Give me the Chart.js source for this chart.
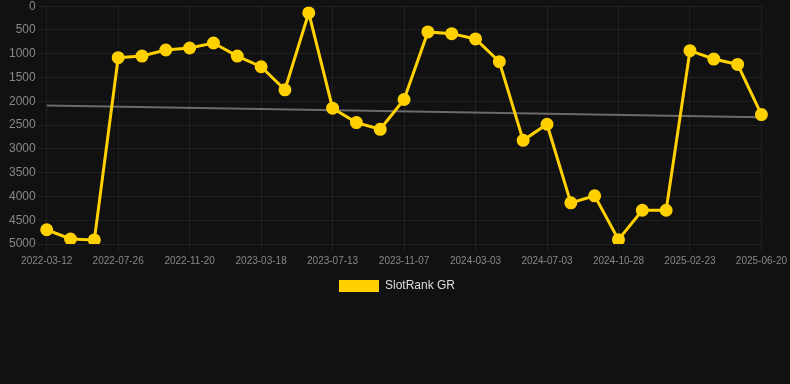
<!DOCTYPE html>
<html>
<head>
<meta charset="utf-8">
<script src="https://cdn.jsdelivr.net/npm/chart.js@4"></script>
<style>
  html, body { margin: 0; padding: 0; background: #111111; overflow: hidden; }
  #wrap { width: 790px; height: 306px; margin-top: -4px; }
</style>
</head>
<body>
<div id="wrap"><canvas id="chartRank"></canvas></div>
<script>
  // dates on the x axis (every 3rd one is shown)
  const dates = [
    '2022-03-12', '2022-04-26', '2022-06-10', '2022-07-26', '2022-09-03', '2022-10-12',
    '2022-11-20', '2022-12-29', '2023-02-07', '2023-03-18', '2023-04-26', '2023-06-04',
    '2023-07-13', '2023-08-21', '2023-09-29', '2023-11-07', '2023-12-16', '2024-01-24',
    '2024-03-03', '2024-04-13', '2024-05-24', '2024-07-03', '2024-08-11', '2024-09-19',
    '2024-10-28', '2024-12-06', '2025-01-14', '2025-02-23', '2025-04-03', '2025-05-12',
    '2025-06-20'
  ];
  // rank values
  const rankGR = [
    4700, 4895, 4915, 1083, 1048, 921, 879, 774, 1048, 1273, 1758,
    141, 2145, 2447, 2588, 1962, 541, 577, 689, 1167, 2820, 2482,
    4135, 3987, 4909, 4290, 4290, 935, 1111, 1224, 2278
  ];
  // trend line, only its two ends
  const trend = dates.map(() => null);
  trend[0] = 2090;
  trend[dates.length - 1] = 2335;

  const yTicks = [0, 500, 1000, 1500, 2000, 2500, 3000, 3500, 4000, 4500, 5000];

  const ctx = document.getElementById('chartRank').getContext('2d');
  const chartRank = new Chart(ctx, {
    type: 'line',
    data: {
      labels: dates,
      datasets: [
        {
          label: 'SlotRank GR',
          data: rankGR,
          borderColor: '#FFD100',
          backgroundColor: '#FFD100',
          borderWidth: 3,
          pointRadius: 5,
          pointHoverRadius: 5,
          tension: 0
        },
        {
          label: 'trend',
          data: trend,
          borderColor: '#6b6b6b',
          borderWidth: 2,
          pointRadius: 0,
          spanGaps: true
        }
      ]
    },
    options: {
      responsive: true,
      maintainAspectRatio: false,
      animation: false,
      layout: { padding: { left: 6, right: 2, top: 0, bottom: 0 } },
      plugins: {
        legend: {
          position: 'bottom',
          labels: {
            color: '#dddddd',
            font: { family: 'Arial, Liberation Sans, sans-serif', size: 12 },
            boxWidth: 40,
            boxHeight: 12,
            filter: item => item.text !== 'trend',
            generateLabels: chart => {
              const items = Chart.defaults.plugins.legend.labels.generateLabels(chart);
              items.forEach(it => { it.lineWidth = 0; });
              return items;
            }
          }
        },
        tooltip: { enabled: false }
      },
      scales: {
        x: {
          grid: {
            color: c => (c.index % 3 === 0 ? 'rgba(255,255,255,0.06)' : 'transparent')
          },
          border: { display: false },
          ticks: {
            color: '#888888',
            font: { family: 'Arial, Liberation Sans, sans-serif', size: 10 },
            maxRotation: 0,
            autoSkip: false,
            callback: function (v, i) { return i % 3 === 0 ? dates[i] : ''; }
          }
        },
        y: {
          reverse: true,
          min: 0,
          max: 5000,
          afterBuildTicks: axis => { axis.ticks = yTicks.map(v => ({ value: v })); },
          grid: { color: 'rgba(255,255,255,0.06)' },
          border: { display: false },
          ticks: {
            color: '#888888',
            font: { family: 'Arial, Liberation Sans, sans-serif', size: 12 },
            callback: v => String(v)
          }
        }
      }
    }
  });
</script>
</body>
</html>
